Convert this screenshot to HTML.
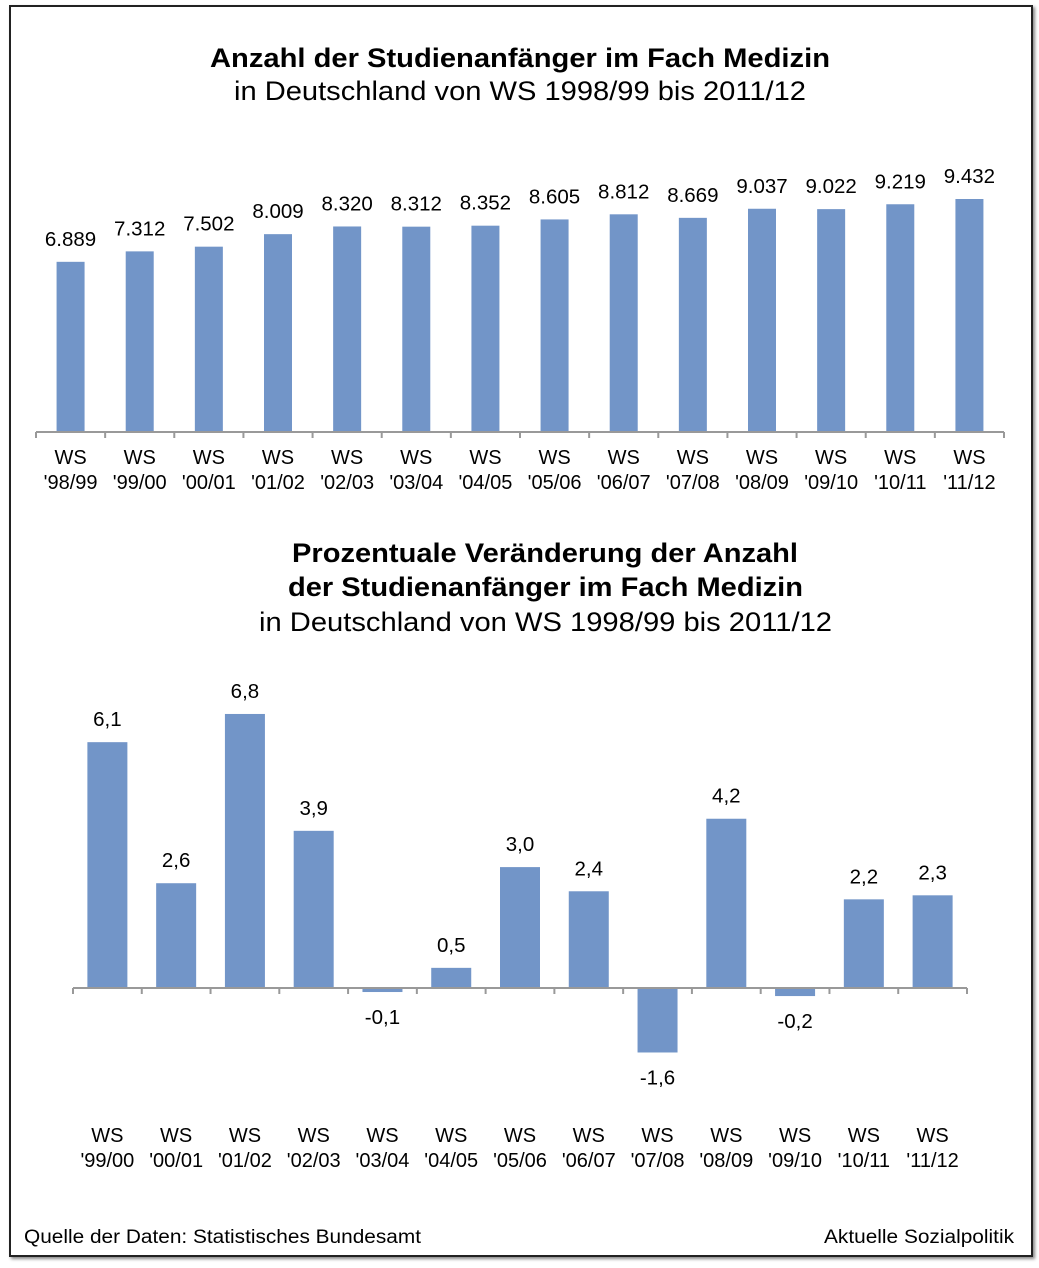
<!DOCTYPE html>
<html><head><meta charset="utf-8">
<style>
html,body{margin:0;padding:0;background:#fff;}
body{width:1039px;height:1268px;position:relative;font-family:"Liberation Sans",Arial,sans-serif;overflow:hidden;}
#frame{position:absolute;left:9px;top:5px;width:1020px;height:1248px;border:2px solid #222;box-shadow:2px 2px 3px #888;}
svg{position:absolute;left:0;top:0;}
</style></head>
<body>
<div id="frame"></div>
<svg id="chart" width="1039" height="1268" font-family="Liberation Sans, Arial, sans-serif">
<text x="210" y="67" textLength="620" lengthAdjust="spacingAndGlyphs" font-size="27" font-weight="bold">Anzahl der Studienanfänger im Fach Medizin</text>
<text x="234" y="100" textLength="572" lengthAdjust="spacingAndGlyphs" font-size="27">in Deutschland von WS 1998/99 bis 2011/12</text>
<text x="292" y="562" textLength="506" lengthAdjust="spacingAndGlyphs" font-size="27" font-weight="bold">Prozentuale Veränderung der Anzahl</text>
<text x="288" y="596" textLength="515" lengthAdjust="spacingAndGlyphs" font-size="27" font-weight="bold">der Studienanfänger im Fach Medizin</text>
<text x="259" y="631" textLength="573" lengthAdjust="spacingAndGlyphs" font-size="27">in Deutschland von WS 1998/99 bis 2011/12</text>
<text x="24" y="1243" textLength="397" lengthAdjust="spacingAndGlyphs" font-size="19">Quelle der Daten: Statistisches Bundesamt</text>
<text x="824" y="1243" textLength="190" lengthAdjust="spacingAndGlyphs" font-size="19">Aktuelle Sozialpolitik</text>
</svg>
<script>
const topCats=["'98/99","'99/00","'00/01","'01/02","'02/03","'03/04","'04/05","'05/06","'06/07","'07/08","'08/09","'09/10","'10/11","'11/12"];
const topValues=[6889,7312,7502,8009,8320,8312,8352,8605,8812,8669,9037,9022,9219,9432];
const topLabels=["6.889","7.312","7.502","8.009","8.320","8.312","8.352","8.605","8.812","8.669","9.037","9.022","9.219","9.432"];
const botCats=["'99/00","'00/01","'01/02","'02/03","'03/04","'04/05","'05/06","'06/07","'07/08","'08/09","'09/10","'10/11","'11/12"];
const botValues=[6.1,2.6,6.8,3.9,-0.1,0.5,3.0,2.4,-1.6,4.2,-0.2,2.2,2.3];
const botLabels=["6,1","2,6","6,8","3,9","-0,1","0,5","3,0","2,4","-1,6","4,2","-0,2","2,2","2,3"];

const NS="http://www.w3.org/2000/svg";
const svg=document.getElementById('chart');
function mk(tag,attrs,parent){const e=document.createElementNS(NS,tag);for(const k in attrs)e.setAttribute(k,attrs[k]);(parent||svg).appendChild(e);return e;}
const BLUE="#7295c8";

const tL=36,tR=1004,tBase=432,tScale=233/9432;
const tStep=(tR-tL)/topCats.length;
const tx=i=>tL+tStep*(i+0.5);
const ty=v=>tBase-v*tScale;
topValues.forEach((v,i)=>{
  const r=mk('rect',{x:tx(i)-14,y:ty(v),width:28,height:tBase-ty(v),fill:BLUE});
  
  
  const t=mk('text',{x:tx(i),y:ty(v)-16,'text-anchor':'middle','font-size':20.5});
  t.textContent=topLabels[i];
  
  
  const c1=mk('text',{x:tx(i),y:464,'text-anchor':'middle','font-size':20});c1.textContent="WS";
  
  
  const c2=mk('text',{x:tx(i),y:489,'text-anchor':'middle','font-size':20});c2.textContent=topCats[i];
  
  
});
const ta=mk('line',{x1:tL,y1:tBase,x2:tR,y2:tBase,stroke:'#999','stroke-width':2});


for(let i=0;i<=topCats.length;i++){mk('line',{x1:tL+tStep*i,y1:tBase,x2:tL+tStep*i,y2:tBase+6,stroke:'#999','stroke-width':2});}

const bL=73,bR=967,bBase=988,bScale=40.3;
const bStep=(bR-bL)/botCats.length;
const bx=i=>bL+bStep*(i+0.5);
const by=v=>bBase-v*bScale;
botValues.forEach((v,i)=>{
  const y0=Math.min(by(v),bBase),h=Math.abs(by(v)-bBase);
  const r=mk('rect',{x:bx(i)-20,y:y0,width:40,height:h,fill:BLUE});
  
  
  const ly=v>=0?by(v)-16:by(v)+32;
  const t=mk('text',{x:bx(i),y:ly,'text-anchor':'middle','font-size':20.5});
  t.textContent=botLabels[i];
  
  
  const c1=mk('text',{x:bx(i),y:1142,'text-anchor':'middle','font-size':20});c1.textContent="WS";
  
  
  const c2=mk('text',{x:bx(i),y:1167,'text-anchor':'middle','font-size':20});c2.textContent=botCats[i];
  
  
});
const ba=mk('line',{x1:bL,y1:bBase,x2:bR,y2:bBase,stroke:'#999','stroke-width':2});


for(let i=0;i<=botCats.length;i++){mk('line',{x1:bL+bStep*i,y1:bBase,x2:bL+bStep*i,y2:bBase+6,stroke:'#999','stroke-width':2});}
</script>
</body></html>
